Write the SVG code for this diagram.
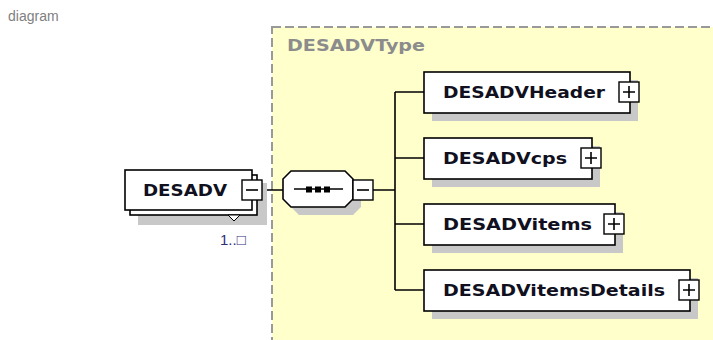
<svg xmlns="http://www.w3.org/2000/svg" width="713" height="340" viewBox="0 0 713 340">
<style>
.box{fill:#fff;stroke:#000;stroke-width:1.6}
.sh{fill:#c8c8c8}
.lbl{font-family:"DejaVu Sans",Verdana,sans-serif;font-weight:bold;font-size:16px;fill:#101020}
.ln{stroke:#000;stroke-width:1.6;fill:none}
.pm{fill:#fff;stroke:#000;stroke-width:1.4}
</style>
<defs>
<g id="plus"><rect class="pm" x="0" y="0" width="20" height="20"/><path class="ln" d="M4 10H16M10 4V16" stroke-width="1.4"/></g>
<g id="minus"><rect class="pm" x="0" y="0" width="20" height="20"/><path class="ln" d="M4 10H16" stroke-width="1.4"/></g>
</defs>
<rect width="713" height="340" fill="#fff"/>
<text x="8" y="21" font-family="Liberation Sans,Arial,sans-serif" font-size="14" fill="#808080">diagram</text>
<g id="DESADVType">
<rect x="272" y="27" width="460" height="330" fill="#ffffcc" stroke="#999" stroke-width="2" stroke-dasharray="9,4"/>
<text x="287" y="51" class="lbl" style="fill:#8c8c8c" textLength="138" lengthAdjust="spacingAndGlyphs">DESADVType</text>
</g>
<g id="connectors">
<path class="ln" d="M262 190H283M373 190H395M395 92V290M395 92H424M395 158H424M395 224H424M395 290H424"/>
</g>
<g id="DESADV">
<rect class="sh" x="138" y="183" width="129" height="42"/>
<rect class="box" x="130" y="175" width="127" height="40"/>
<rect class="box" x="125" y="170" width="127" height="40"/>
<text x="143" y="196" class="lbl" textLength="84" lengthAdjust="spacingAndGlyphs">DESADV</text>
<use href="#minus" x="242" y="180"/>
<polygon points="228,215 240,215 234,221" fill="#fff" stroke="#000" stroke-width="1"/>
<text x="220" y="245" font-family="Liberation Sans,Arial,sans-serif" font-size="15" fill="#303078">1..□</text>
</g>
<g id="sequence">
<polygon class="sh" points="299,179 353,179 361,187 361,207 353,215 299,215 291,207 291,187"/>
<polygon class="box" points="291,171 345,171 353,179 353,199 345,207 291,207 283,199 283,179"/>
<path class="ln" d="M294 189H343"/>
<rect x="306" y="186.5" width="6" height="6" fill="#000"/>
<rect x="315" y="186.5" width="6" height="6" fill="#000"/>
<rect x="324" y="186.5" width="6" height="6" fill="#000"/>
<use href="#minus" x="353" y="180"/>
</g>
<g id="DESADVHeader">
<rect class="sh" x="432" y="80" width="206" height="41"/>
<rect class="box" x="424" y="72" width="206" height="41"/>
<text x="443" y="98" class="lbl" textLength="162" lengthAdjust="spacingAndGlyphs">DESADVHeader</text>
<use href="#plus" x="619" y="82"/>
</g>
<g id="DESADVcps">
<rect class="sh" x="432" y="146" width="168" height="41"/>
<rect class="box" x="424" y="138" width="168" height="41"/>
<text x="443" y="164" class="lbl" textLength="124" lengthAdjust="spacingAndGlyphs">DESADVcps</text>
<use href="#plus" x="581" y="148"/>
</g>
<g id="DESADVitems">
<rect class="sh" x="432" y="212" width="191" height="41"/>
<rect class="box" x="424" y="204" width="191" height="41"/>
<text x="443" y="230" class="lbl" textLength="149" lengthAdjust="spacingAndGlyphs">DESADVitems</text>
<use href="#plus" x="604" y="214"/>
</g>
<g id="DESADVitemsDetails">
<rect class="sh" x="432" y="278" width="266" height="41"/>
<rect class="box" x="424" y="270" width="266" height="41"/>
<text x="443" y="296" class="lbl" textLength="222" lengthAdjust="spacingAndGlyphs">DESADVitemsDetails</text>
<use href="#plus" x="679" y="280"/>
</g>
</svg>
